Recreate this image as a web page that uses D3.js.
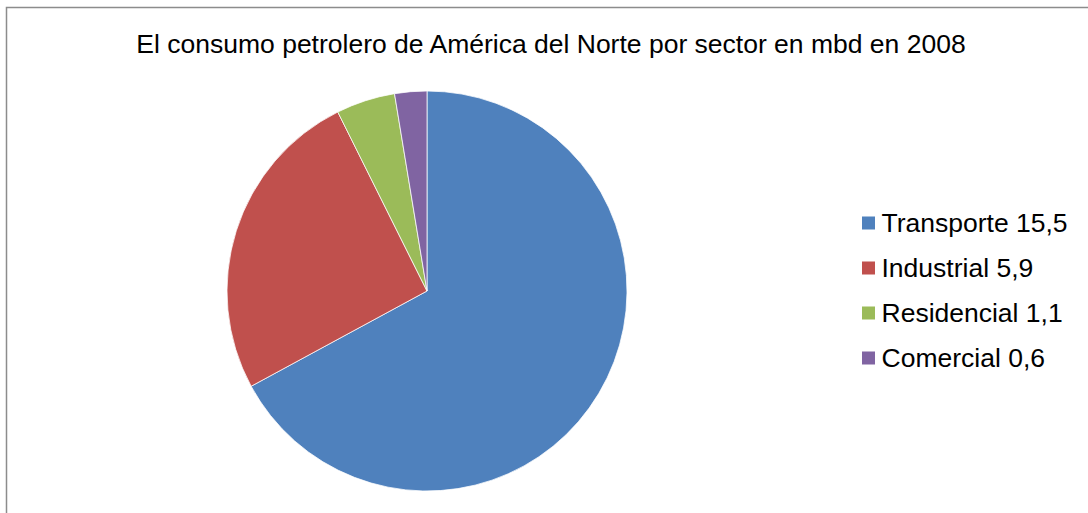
<!DOCTYPE html>
<html><head><meta charset="utf-8">
<script src="https://cdn.jsdelivr.net/npm/d3@7"></script>
<style>body{margin:0;background:#fff}svg{display:block}</style>
</head><body>
<script>
const title = "El consumo petrolero de América del Norte por sector en mbd en 2008";
const categories = ["Transporte", "Industrial", "Residencial", "Comercial"];
const values = [15.5, 5.9, 1.1, 0.6];
const valueLabels = ["15,5", "5,9", "1,1", "0,6"];
const colors = ["#4F81BD", "#C0504D", "#9BBB59", "#8064A2"];

const W = 1088, H = 513;
const svg = d3.select("body").append("svg").attr("width", W).attr("height", H);
svg.append("rect").attr("x", 6.5).attr("y", 7.5).attr("width", 1200).attr("height", 600)
  .attr("fill", "#fff").attr("stroke", "#8c8c8c").attr("stroke-width", 1.5);

svg.append("text").attr("x", 551).attr("y", 52.5).attr("text-anchor", "middle")
  .attr("font-family", "'Liberation Sans', Arial, sans-serif").attr("font-size", 26.5)
  .attr("fill", "#000").text(title);

const cx = 427, cy = 291, r = 200;
const pie = d3.pie().sort(null).value(d => d)(values);
const arc = d3.arc().innerRadius(0).outerRadius(r);
const g = svg.append("g").attr("transform", `translate(${cx},${cy})`);
g.selectAll("path").data(pie).join("path")
  .attr("d", arc).attr("fill", (d, i) => colors[i])
  .attr("stroke", "#fff").attr("stroke-width", 0.75);

const leg = svg.append("g");
const rows = leg.selectAll("g").data(categories).join("g")
  .attr("transform", (d, i) => `translate(862,${223 + i * 45})`);
rows.append("rect").attr("x", 0).attr("y", -6.5).attr("width", 13).attr("height", 13)
  .attr("fill", (d, i) => colors[i]);
rows.append("text").attr("x", 19.5).attr("y", 9)
  .attr("font-family", "'Liberation Sans', Arial, sans-serif").attr("font-size", 26.5)
  .attr("fill", "#000").text((d, i) => d + " " + valueLabels[i]);
</script>
</body></html>
